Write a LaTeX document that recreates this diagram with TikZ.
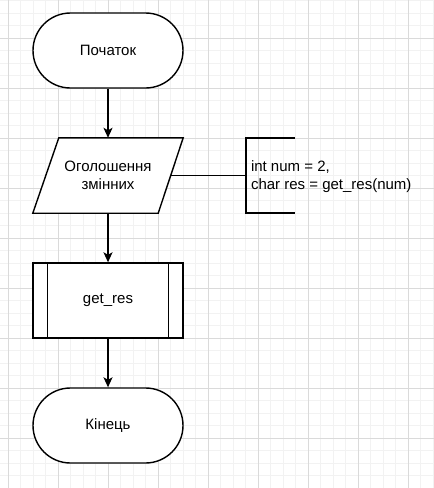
\documentclass[tikz,border=0pt]{standalone}
\usepackage{fontspec}
\setmainfont{Liberation Sans}
\usetikzlibrary{shapes.misc,arrows.meta,calc}
\definecolor{gridminor}{HTML}{F2F2F2}
\definecolor{gridmajor}{HTML}{DADADA}
\tikzset{
  every node/.style={font=\fontsize{15}{18.5}\selectfont},
  terminal/.style={rounded rectangle, draw, line width=1.4pt, minimum width=150pt, minimum height=75pt, inner sep=0pt},
  blockbox/.style={rectangle, draw, line width=1.4pt, minimum width=150pt, minimum height=75pt, inner sep=0pt},
  ghostbox/.style={rectangle, minimum width=150pt, minimum height=75pt, inner sep=0pt, align=center},
  shapeline/.style={line width=1.4pt},
  flow/.style={line width=1.4pt, -{Stealth[length=10pt,width=9pt,inset=2.5pt]}},
  link/.style={line width=1.4pt}
}
\begin{document}
\begin{tikzpicture}[x=1pt,y=-1pt]
\useasboundingbox (0,0) rectangle (434,488);
\fill[white] (0,0) rectangle (434,488);
% grid
\foreach \i in {0,...,35} {
  \draw[gridminor, line width=0.8pt] ({8+12.5*\i},0) -- ({8+12.5*\i},488);
}
\foreach \i in {0,...,39} {
  \draw[gridminor, line width=0.8pt] (0,{0.5+12.5*\i}) -- (434,{0.5+12.5*\i});
}
\foreach \i in {0,...,8} {
  \draw[gridmajor, line width=0.8pt] ({8+50*\i},0) -- ({8+50*\i},488);
}
\foreach \i in {0,...,9} {
  \draw[gridmajor, line width=0.8pt] (0,{-12+50*\i}) -- (434,{-12+50*\i});
}
% nodes
\node[terminal, fill=white] (start) at (108,50.5) {Початок};
\node[ghostbox] (decl) at (108,175.5) {};
\fill[white] ($(decl.north west)+(26,0)$) -- (decl.north east) -- ($(decl.south east)+(-25,0)$) -- (decl.south west) -- cycle;
\draw[shapeline] ($(decl.north west)+(26,0)$) -- (decl.north east) -- ($(decl.south east)+(-25,0)$) -- (decl.south west) -- cycle;
\node[align=center] at (decl.center) {Оголошення\\змінних};
\node[blockbox, fill=white] (sub) at (108,300.5) {get\_res};
\draw[shapeline] ($(sub.north west)+(15,0)$) -- ($(sub.south west)+(15,0)$);
\draw[shapeline] ($(sub.north east)+(-15,0)$) -- ($(sub.south east)+(-15,0)$);
\node[terminal, fill=white] (end) at (108,425.5) {Кінець};
\node[anchor=west, align=left, inner sep=0pt, outer sep=0pt] (note) at (251,176.5) {int num = 2,\\char res = get\_res(num)};
\coordinate (bt) at (246,138);
\coordinate (bb) at (246,213);
\coordinate (bm) at (246,175.5);
\draw[shapeline] ($(bt)+(49,0)$) -- (bt) -- (bb) -- ($(bb)+(49,0)$);
% connectors
\draw[flow] (start.south) -- (decl.north);
\draw[link] ($(decl.east)+(-12.5,0)$) -- (bm);
\draw[flow] (decl.south) -- (sub.north);
\draw[flow] (sub.south) -- (end.north);
\end{tikzpicture}
\end{document}
